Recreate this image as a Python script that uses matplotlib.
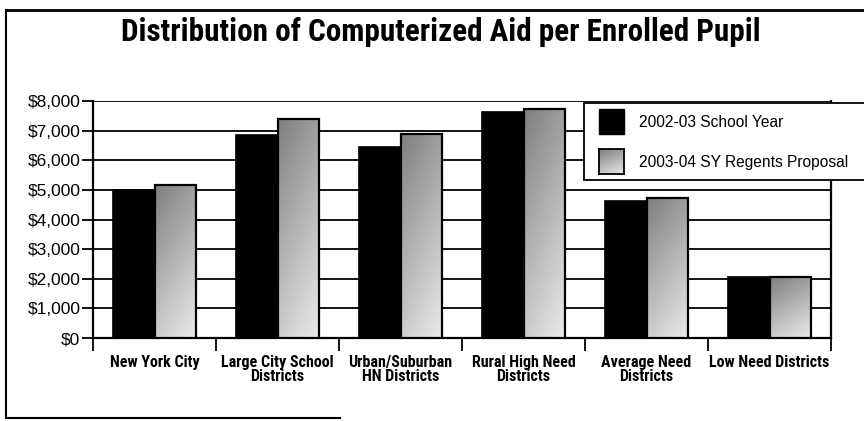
import numpy as np
import matplotlib
matplotlib.use("Agg")
import matplotlib.pyplot as plt
from matplotlib.patches import Rectangle
from matplotlib.lines import Line2D

# data
categories = ["New York City", "Large City School\nDistricts", "Urban/Suburban\nHN Districts",
              "Rural High Need\nDistricts", "Average Need\nDistricts", "Low Need Districts"]
sy_2002 = [5000, 6850, 6450, 7620, 4630, 2070]
sy_2003 = [5170, 7390, 6890, 7720, 4720, 2050]
series_names = ["2002-03 School Year", "2003-04 SY Regents Proposal"]
yticks = [0, 1000, 2000, 3000, 4000, 5000, 6000, 7000, 8000]
ytick_labels = ["$0", "$1,000", "$2,000", "$3,000", "$4,000", "$5,000", "$6,000", "$7,000", "$8,000"]

W, H = 864, 421
narrow = ["Roboto Condensed", "DejaVu Sans"]
plain = ["Liberation Sans", "DejaVu Sans"]

fig = plt.figure(figsize=(W / 100, H / 100), dpi=100)
ax = fig.add_axes([93 / W, 1 - 338 / H, (831 - 93) / W, (338 - 101) / H])

# gradient used for the grey (halftone) bars
ny, nx = 60, 20
ii, jj = np.mgrid[0:ny, 0:nx]
grad = 0.5 + 0.3 * ii / (ny - 1) + 0.12 * jj / (nx - 1)

x = np.arange(len(categories)) + 0.5
bw = 0.34
for xi, v in zip(x, sy_2002):
    ax.add_patch(Rectangle((xi - bw, 0), bw, v, facecolor="black", edgecolor="black", lw=1.2, zorder=3))
for xi, v in zip(x, sy_2003):
    r = Rectangle((xi, 0), bw, v, facecolor="none", edgecolor="black", lw=1.6, zorder=4)
    ax.add_patch(r)
    im = ax.imshow(grad, extent=[xi, xi + bw, 0, v], aspect="auto", cmap="gray", vmin=0, vmax=1,
                   zorder=3, interpolation="bilinear")
    im.set_clip_path(r)

ax.set_xlim(0, len(categories))
ax.set_ylim(0, 8000)
ax.set_aspect("auto")

# horizontal rules
for t in yticks[1:]:
    ax.axhline(t, color="black", lw=1.3, zorder=1)

for s in ["left", "bottom", "right"]:
    ax.spines[s].set_linewidth(1.6)
ax.spines["top"].set_visible(False)

ax.set_yticks(yticks)
ax.set_yticklabels(ytick_labels, family=plain, fontsize=12.5)
ax.tick_params(axis="y", direction="out", length=8, width=1.3, pad=1)

ax.set_xticks(np.arange(len(categories) + 1), minor=True)
ax.tick_params(axis="x", which="minor", direction="out", length=9, width=1.3)
ax.set_xticks(x)
ax.set_xticklabels(categories, family=narrow, fontweight="bold", fontsize=11.5, linespacing=0.95)
ax.tick_params(axis="x", which="major", length=0, pad=12)

# title
fig.text(0.51, 1 - 41 / H, "Distribution of Computerized Aid per Enrolled Pupil",
         ha="center", va="baseline", family=narrow, fontweight="bold", fontsize=22.4)


# legend box drawn by hand
def fx(px):
    return px / W


def fy(py):
    return 1 - py / H


fig.add_artist(Rectangle((fx(584), fy(180)), fx(300), (180 - 103) / H, transform=fig.transFigure,
                         facecolor="white", edgecolor="black", lw=1.3, zorder=10))
fig.add_artist(Rectangle((fx(599), fy(134)), fx(25), 25 / H, transform=fig.transFigure,
                         facecolor="black", edgecolor="black", lw=1, zorder=11))
sw = fig.add_axes([fx(599), fy(174), fx(25), 25 / H], zorder=12)
sw.imshow(grad[::3, :], aspect="auto", cmap="gray", vmin=0, vmax=1, interpolation="bilinear")
sw.set_xticks([])
sw.set_yticks([])
for s in sw.spines.values():
    s.set_linewidth(1.3)
fig.text(fx(639), fy(122), series_names[0], ha="left", va="center", family=plain, fontsize=11.2, zorder=13)
fig.text(fx(639), fy(162), series_names[1], ha="left", va="center", family=plain, fontsize=11.2, zorder=13)

# page frame
fig.add_artist(Line2D([fx(6), 1], [fy(10), fy(10)], color="black", lw=2, transform=fig.transFigure))
fig.add_artist(Line2D([fx(6), fx(6)], [fy(10), fy(418)], color="black", lw=1.5, transform=fig.transFigure))
fig.add_artist(Line2D([fx(6), fx(340)], [fy(418), fy(418)], color="black", lw=1.5, transform=fig.transFigure))

fig.savefig("out.png", dpi=100)
